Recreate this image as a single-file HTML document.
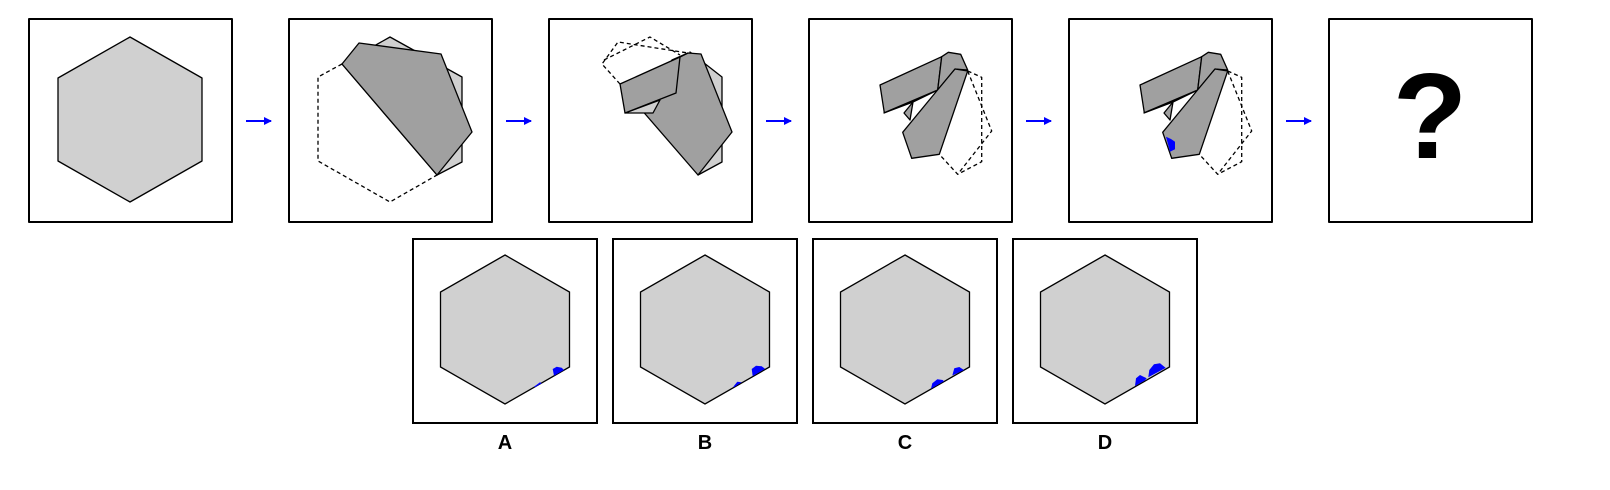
<!DOCTYPE html>
<html><head><meta charset="utf-8"><style>
html,body{margin:0;padding:0;background:#fff;}
svg{display:block;font-family:"Liberation Sans",sans-serif;}
</style></head><body>
<svg width="1610" height="490" viewBox="0 0 1610 490">
<defs>
<marker id="ah" markerWidth="8" markerHeight="8" refX="7" refY="4" orient="auto" markerUnits="userSpaceOnUse"><path d="M0,0 L8,4 L0,8 Z" fill="#0000ff"/></marker>
</defs>
<g stroke="#000" stroke-width="1.3" stroke-linejoin="round">
<rect x="29" y="19" width="203" height="203" fill="#fff" stroke-width="2"/>
<rect x="289" y="19" width="203" height="203" fill="#fff" stroke-width="2"/>
<rect x="549" y="19" width="203" height="203" fill="#fff" stroke-width="2"/>
<rect x="809" y="19" width="203" height="203" fill="#fff" stroke-width="2"/>
<rect x="1069" y="19" width="203" height="203" fill="#fff" stroke-width="2"/>
<rect x="1329" y="19" width="203" height="203" fill="#fff" stroke-width="2"/>

<polygon points="130,37 202,78 202,161 130,202 58,161 58,78" fill="#d0d0d0"/>

<g>
<polygon points="342,64 390,37 462,77 462,162 437,175" fill="#d0d0d0"/>
<polyline points="342,64 318,77 318,161 390,202 437,175" fill="none" stroke-dasharray="4,3"/>
<polygon points="342,64 359,43 441,54 472,132 437,175" fill="#a0a0a0"/>
</g>

<g>
<polygon points="690,52 722,77 722,162 698,175 710,120" fill="#d0d0d0"/>
<polygon points="688,53 701,54 732,132 698,175 640,108 672,60" fill="#a0a0a0"/>
<polygon points="625,113 653,113 660,100" fill="#d0d0d0"/>
<polyline points="620,84 602,64 618,42 688,53" fill="none" stroke-dasharray="4,3"/>
<polyline points="604,60 650,37 680,55" fill="none" stroke-dasharray="4,3"/>
<polygon points="620,84 680,57 676,93 625,113" fill="#a0a0a0"/>
<line x1="680" y1="57" x2="688" y2="53"/>
</g>

<g>
<polyline points="967.7,71 981.7,77.3 981.7,161.7 957.7,174.3 939.3,154.3" fill="none" stroke-dasharray="4,3"/>
<polyline points="967.7,71 991.7,131 957.7,174.3" fill="none" stroke-dasharray="4,3"/>
<polygon points="904,113 910,120 913,102" fill="#a0a0a0"/>
<polygon points="884,113 913,102 937.7,90" fill="#d0d0d0"/>
<polygon points="880,85 941.7,56.7 937.7,90 884.3,112.7" fill="#a0a0a0"/>
<polygon points="941.7,56.7 948.3,52.3 960.7,54.3 967.7,70 955,69 937.7,90" fill="#a0a0a0"/>
<polygon points="955,69 967.7,71 939.3,154.3 911.7,158.3 902.7,132.3 936.7,91" fill="#a0a0a0"/>
</g>

<g transform="translate(260,0)">
<polyline points="967.7,71 981.7,77.3 981.7,161.7 957.7,174.3 939.3,154.3" fill="none" stroke-dasharray="4,3"/>
<polyline points="967.7,71 991.7,131 957.7,174.3" fill="none" stroke-dasharray="4,3"/>
<polygon points="904,113 910,120 913,102" fill="#a0a0a0"/>
<polygon points="884,113 913,102 937.7,90" fill="#d0d0d0"/>
<polygon points="880,85 941.7,56.7 937.7,90 884.3,112.7" fill="#a0a0a0"/>
<polygon points="941.7,56.7 948.3,52.3 960.7,54.3 967.7,70 955,69 937.7,90" fill="#a0a0a0"/>
<polygon points="955,69 967.7,71 939.3,154.3 911.7,158.3 902.7,132.3 936.7,91" fill="#a0a0a0"/>
<polygon points="906,136.7 911,139 915,141.7 915,149.3 910,151.7" fill="#0000ff" stroke="none"/>
</g>
</g>

<g stroke="#0000ff" stroke-width="2">
<line x1="246" y1="121" x2="271" y2="121" marker-end="url(#ah)"/>
<line x1="506" y1="121" x2="531" y2="121" marker-end="url(#ah)"/>
<line x1="766" y1="121" x2="791" y2="121" marker-end="url(#ah)"/>
<line x1="1026" y1="121" x2="1051" y2="121" marker-end="url(#ah)"/>
<line x1="1286" y1="121" x2="1311" y2="121" marker-end="url(#ah)"/>
</g>
<text x="1430" y="158" text-anchor="middle" font-size="122" font-weight="bold" fill="#000">?</text>

<g stroke="#000" stroke-width="1.3">
<g transform="translate(413,239)">
<rect x="0" y="0" width="184" height="184" fill="#fff" stroke-width="2"/>
<polygon points="92,16 156.5,53 156.5,128 92,165 27.5,128 27.5,53" fill="#d0d0d0"/>
<polygon points="139.7,130 143.7,127.7 148.7,128.7 151,131 141,136.8" fill="#0000ff" stroke="none"/>
<polygon points="121,147.7 127,143.3 128.7,144.3 122,148.2" fill="#0000ff" stroke="none"/>
</g>
<g transform="translate(613,239)">
<rect x="0" y="0" width="184" height="184" fill="#fff" stroke-width="2"/>
<polygon points="92,16 156.5,53 156.5,128 92,165 27.5,128 27.5,53" fill="#d0d0d0"/>
<polygon points="138.7,130 143,126.7 148.7,127.3 152,129.8 139.7,137.2" fill="#0000ff" stroke="none"/>
<polygon points="120.3,147.7 124.3,142.7 128.7,143.3 121,148.2" fill="#0000ff" stroke="none"/>
</g>
<g transform="translate(813,239)">
<rect x="0" y="0" width="184" height="184" fill="#fff" stroke-width="2"/>
<polygon points="92,16 156.5,53 156.5,128 92,165 27.5,128 27.5,53" fill="#d0d0d0"/>
<polygon points="139.3,136.5 141.3,129.3 146.3,128 151,131" fill="#0000ff" stroke="none"/>
<polygon points="118,149.8 119.3,144.3 124.3,140.3 129.7,141 131,142.3" fill="#0000ff" stroke="none"/>
</g>
<g transform="translate(1013,239)">
<rect x="0" y="0" width="184" height="184" fill="#fff" stroke-width="2"/>
<polygon points="92,16 156.5,53 156.5,128 92,165 27.5,128 27.5,53" fill="#d0d0d0"/>
<polygon points="135.3,138.2 136.3,131 141,125.3 147,124.3 152.7,128.9" fill="#0000ff" stroke="none"/>
<polygon points="122,147 123,139.3 127,136 133.7,139.3 132,141.4" fill="#0000ff" stroke="none"/>
</g>
</g>
<g font-size="20" font-weight="bold" fill="#000" text-anchor="middle">
<text x="505" y="449">A</text>
<text x="705" y="449">B</text>
<text x="905" y="449">C</text>
<text x="1105" y="449">D</text>
</g>
</svg>
</body></html>
